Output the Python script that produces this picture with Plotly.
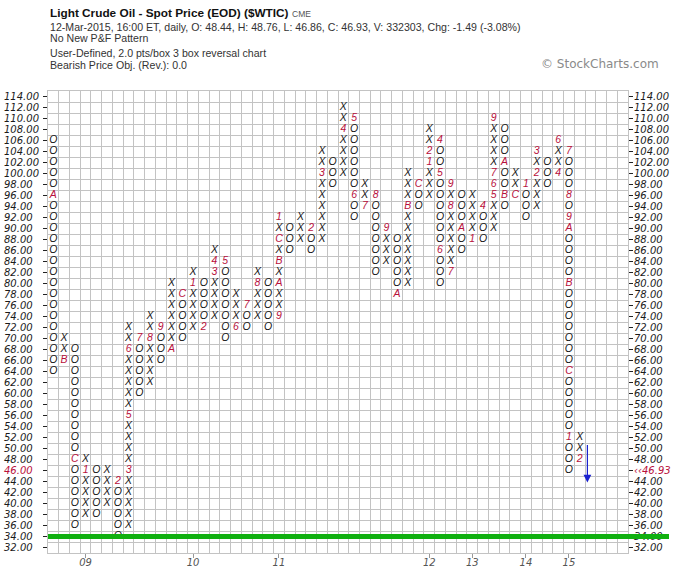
import plotly.graph_objects as go

# ---------------- data ----------------
col_types = ["O", "X", "O", "X", "O", "X", "O", "X", "O", "X",
             "O", "X", "O", "X", "O", "X", "O", "X", "O", "X",
             "O", "X", "O", "X", "O", "X", "O", "X", "O", "X",
             "O", "X", "O", "X", "O", "X", "O", "X", "O", "X",
             "O", "X", "O", "X", "O", "X", "O", "X", "O", "X"]
col_low = [64, 66, 36, 38, 38, 40, 34, 36, 60, 62,
           66, 68, 70, 72, 72, 74, 70, 72, 72, 74,
           72, 74, 86, 88, 86, 88, 98, 100, 92, 94,
           82, 84, 78, 80, 94, 96, 80, 82, 86, 88,
           88, 90, 94, 96, 92, 94, 98, 100, 46, 48]
col_high = [106, 70, 68, 48, 46, 46, 44, 72, 70, 74,
            72, 80, 78, 82, 80, 86, 84, 78, 76, 82,
            80, 92, 90, 92, 90, 104, 102, 112, 110, 98,
            96, 90, 88, 100, 98, 108, 106, 98, 96, 96,
            94, 110, 108, 100, 98, 104, 102, 106, 104, 52]

month_cols = [0, 1, 2, 3, 6, 7, 7, 7, 8, 9, 10, 11, 12, 13, 14, 15, 15, 16, 17, 18,
              19, 21, 21, 21, 21, 21, 24, 25, 27, 28, 28, 29, 30, 31, 32, 33, 34, 35, 35,
              36, 36, 36, 37, 37, 37, 38, 39, 40, 41, 41, 41, 41, 42, 42, 43, 44, 45, 45,
              47, 47, 48, 48, 48, 48, 48, 48, 48, 49]
month_prices = [96, 66, 48, 46, 44, 46, 56, 68, 70, 70, 72, 68, 78, 80, 72, 82, 84, 84, 72, 76,
                80, 74, 80, 84, 88, 92, 90, 100, 108, 110, 96, 94, 96, 90, 78, 94, 98, 102, 104,
                106, 100, 86, 82, 94, 98, 90, 88, 94, 96, 98, 100, 110, 102, 96, 96, 98, 100, 104,
                100, 106, 104, 96, 92, 90, 80, 64, 52, 48]
month_codes = ["A", "B", "C", "1", "2", "3", "5", "6", "7", "8", "9", "A", "C", "1", "2", "3", "4", "5", "6", "7",
               "8", "9", "A", "B", "C", "1", "2", "3", "4", "5", "6", "7", "8", "9", "A", "B", "C", "1", "2",
               "4", "5", "6", "7", "8", "9", "A", "1", "4", "5", "6", "7", "9", "A", "B", "C", "1", "2", "3",
               "4", "6", "7", "8", "9", "A", "B", "C", "1", "2"]

year_cols = [3, 13, 21, 35, 39, 44, 48]
year_labels = ["09", "10", "11", "12", "13", "14", "15"]

price_ticks = list(range(32, 115, 2))
box_size = 2
n_cols_shown = 54
support_level = 34
last_price = 46.93
last_row = 46
arrow_col = 49.72
arrow_from = 50.9
arrow_to = 43.8

# ---------------- build marks ----------------
marks = {(c, p): m for c, p, m in zip(month_cols, month_prices, month_codes)}
xs_box, ys_box, txt_box = [], [], []
xs_m, ys_m, txt_m = [], [], []
for i, (t, lo, hi) in enumerate(zip(col_types, col_low, col_high)):
    for p in range(lo, hi + 1, box_size):
        if (i, p) in marks:
            xs_m.append(i); ys_m.append(p); txt_m.append(marks[(i, p)])
        else:
            xs_box.append(i); ys_box.append(p); txt_box.append(t)

RED = "#b8103c"
fig = go.Figure()
fig.add_trace(go.Scatter(
    x=xs_box, y=ys_box, mode="text", text=txt_box, textposition="middle center",
    textfont=dict(family="Liberation Sans", size=10.5, color="#151515", style="italic"),
    hoverinfo="skip", showlegend=False))
fig.add_trace(go.Scatter(
    x=xs_m, y=ys_m, mode="text", text=txt_m, textposition="middle center",
    textfont=dict(family="Liberation Sans", size=10.5, color=RED, style="italic"),
    hoverinfo="skip", showlegend=False, yaxis="y2"))

PL, PT, PW, PH = 48, 91, 580, 462   # plot area in the window

grid_col = "#c3c3c3"
fig.update_layout(
    width=700, height=585,
    margin=dict(l=PL, r=700 - PL - PW, t=PT, b=585 - PT - PH),
    plot_bgcolor="white", paper_bgcolor="white",
    showlegend=False,
    xaxis=dict(
        range=[-0.5, n_cols_shown - 0.5],
        tickmode="array", tickvals=year_cols, ticktext=year_labels,
        ticks="outside", ticklen=4, tickcolor="#999999",
        ticklabelstandoff=-4,
        tickfont=dict(family="DejaVu Sans", size=10, color="#555555", style="italic"),
        showgrid=False, zeroline=False,
        showline=True, linecolor=grid_col, mirror=True,
        minor=dict(tickmode="array", tickvals=[k + 0.5 for k in range(-1, n_cols_shown)],
                   showgrid=True, gridcolor=grid_col, gridwidth=1, ticks=""),
    ),
    yaxis=dict(
        range=[price_ticks[0] - 1, price_ticks[-1] + 1],
        tickmode="array", tickvals=price_ticks, showticklabels=False,
        ticks="outside", ticklen=4, tickcolor="#222222",
        showgrid=False, zeroline=False,
        showline=True, linecolor=grid_col, mirror=True,
        minor=dict(tickmode="array", tickvals=list(range(price_ticks[0] - 1, price_ticks[-1] + 2, 2)),
                   showgrid=True, gridcolor=grid_col, gridwidth=1, ticks=""),
    ),
    yaxis2=dict(
        overlaying="y", side="right",
        range=[price_ticks[0] - 1, price_ticks[-1] + 1],
        tickmode="array", tickvals=price_ticks,
        ticktext=[(f'<span style="color:{RED}">‹‹{last_price:.2f}</span>' if v == last_row else f"{v:.2f}")
                  for v in price_ticks],
        ticks="outside", ticklen=4, tickcolor="#222222",
        ticklabelstandoff=-1,
        tickfont=dict(family="DejaVu Sans", size=10, color="#1a1a1a", style="italic"),
        showgrid=False, zeroline=False, showline=False,
    ),
)


def xpx(px):
    return (px - PL) / PW


def ypx(py):
    return (PT + PH - py) / PH


# left-aligned price labels on the left side
for v in price_ticks:
    fig.add_annotation(
        xref="paper", yref="y", x=xpx(2), y=v, xanchor="left", yanchor="middle",
        text=f"<i>{v:.2f}</i>", showarrow=False,
        font=dict(family="DejaVu Sans", size=10, color=RED if v == last_row else "#1a1a1a"))

# support line
fig.add_shape(type="line", xref="paper", yref="y", x0=0, x1=xpx(669),
              y0=support_level, y1=support_level,
              line=dict(color="#10b010", width=5), layer="above")

# bearish arrow
fig.add_annotation(x=arrow_col, y=arrow_to, ax=arrow_col, ay=arrow_from,
                   xref="x", yref="y", axref="x", ayref="y", text="",
                   showarrow=True, arrowhead=2, arrowsize=1.3, arrowwidth=1.2,
                   arrowcolor="#1a22d0", standoff=0)

# header texts
fig.add_annotation(xref="paper", yref="paper", x=xpx(48), y=ypx(13), xanchor="left", yanchor="middle",
                   text="<b>Light Crude Oil - Spot Price (EOD) ($WTIC)</b>", showarrow=False,
                   font=dict(family="Liberation Sans", size=11.8, color="#111111"))
fig.add_annotation(xref="paper", yref="paper", x=xpx(290), y=ypx(13.5), xanchor="left", yanchor="middle",
                   text="CME", showarrow=False,
                   font=dict(family="Liberation Sans", size=8.5, color="#555555"))
header_lines = [
    ("12-Mar-2015, 16:00 ET, daily, O: 48.44, H: 48.76, L: 46.86, C: 46.93, V: 332303, Chg: -1.49 (-3.08%)", 27),
    ("No New P&F Pattern", 38),
    ("User-Defined, 2.0 pts/box 3 box reversal chart", 53),
    ("Bearish Price Obj. (Rev.): 0.0", 65),
]
for txt, py in header_lines:
    fig.add_annotation(xref="paper", yref="paper", x=xpx(48), y=ypx(py), xanchor="left", yanchor="middle",
                       text=txt, showarrow=False,
                       font=dict(family="Liberation Sans", size=10.6, color="#333333"))
fig.add_annotation(xref="paper", yref="paper", x=xpx(600), y=ypx(64), xanchor="center", yanchor="middle",
                   text="© StockCharts.com", showarrow=False,
                   font=dict(family="DejaVu Sans", size=12, color="#8a8a8a"))

# remove the browser's default 8px page margin so the figure fills the window exactly
fig.write_html("out.html", config={"displayModeBar": False},
               post_script="document.body.style.margin='0px';")
